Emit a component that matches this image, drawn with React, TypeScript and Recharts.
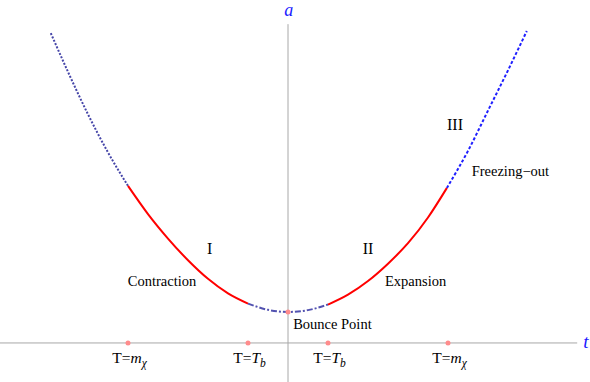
import React from 'react';
import { LineChart, Line, XAxis, YAxis, ReferenceLine, ReferenceDot } from 'recharts';

// curve readings: time t and scale factor a
const tLeftOuter = [-5.93, -5.5, -5.0, -4.5, -4.0];
const aLeftOuter = [10.0, 8.75, 7.38, 6.15, 5.07];
const tLeftRed = [-4.0, -3.5, -3.0, -2.5, -2.0, -1.5, -1.0];
const aLeftRed = [5.07, 4.16, 3.37, 2.67, 2.07, 1.6, 1.27];
const tCenter = [-1.0, -0.5, 0, 0.5, 1.0];
const aCenter = [1.27, 1.07, 1.0, 1.06, 1.24];
const tRightRed = [1.0, 1.5, 2.0, 2.5, 3.0, 3.5, 3.97];
const aRightRed = [1.24, 1.56, 2.0, 2.56, 3.22, 4.05, 5.0];
const tRightOuter = [3.97, 4.5, 5.0, 5.5, 5.97];
const aRightOuter = [5.0, 6.2, 7.5, 8.8, 10.07];

// temperature markers on the t axis
const markerT = [-4, -1, 1, 4];
const markerMain = ['m', 'T', 'T', 'm'];
const markerSub = ['χ', 'b', 'b', 'χ'];
const bounceT = 0;
const bounceA = 1;

// annotations (data coordinates)
const noteText = ['I', 'II', 'III', 'Contraction', 'Expansion', 'Freezing−out', 'Bounce Point'];
const noteT = [-1.96, 2.0, 4.175, -3.15, 3.19, 5.56, 1.11];
const noteA = [2.87, 2.87, 6.89, 1.84, 1.84, 5.39, 0.45];
const noteBig = [true, true, true, false, false, false, false];

const zip = (ts: number[], as: number[]) => ts.map((t, i) => ({ t, a: as[i] }));

const FONT = '"Liberation Serif", "Times New Roman", serif';
const W = 590;
const H = 382;

export default function App() {
  return (
    <div style={{ position: 'absolute', left: 0, top: 0, background: '#fff' }}>
      <LineChart width={W} height={H} margin={{ top: 0, right: 0, bottom: 0, left: 0 }}>
        <XAxis type="number" dataKey="t" domain={[-7.2, 7.55]} hide allowDataOverflow />
        <YAxis type="number" dataKey="a" domain={[-1.26, 11.07]} hide allowDataOverflow />
        <ReferenceLine
          segment={[{ x: -7.2, y: 0 }, { x: 7.23, y: 0 }]}
          stroke="#a8a8a8"
          strokeWidth={1}
          ifOverflow="visible"
        />
        <ReferenceLine
          segment={[{ x: 0, y: 10.29 }, { x: 0, y: -1.26 }]}
          stroke="#a8a8a8"
          strokeWidth={1}
          ifOverflow="visible"
        />
        <Line data={zip(tLeftOuter, aLeftOuter)} dataKey="a" type="monotone" stroke="#4545a8" strokeWidth={2} strokeDasharray="2 1.6" dot={false} activeDot={false} isAnimationActive={false} />
        <Line data={zip(tLeftRed, aLeftRed)} dataKey="a" type="monotone" stroke="#ff0000" strokeWidth={2} dot={false} activeDot={false} isAnimationActive={false} />
        <Line data={zip(tCenter, aCenter)} dataKey="a" type="monotone" stroke="#5252b0" strokeWidth={2} strokeDasharray="6 2 2 2" dot={false} activeDot={false} isAnimationActive={false} />
        <Line data={zip(tRightRed, aRightRed)} dataKey="a" type="monotone" stroke="#ff0000" strokeWidth={2} dot={false} activeDot={false} isAnimationActive={false} />
        <Line data={zip(tRightOuter, aRightOuter)} dataKey="a" type="monotone" stroke="#1f1fff" strokeWidth={2} strokeDasharray="3 2" dot={false} activeDot={false} isAnimationActive={false} />
        {markerT.map((t, i) => (
          <ReferenceDot key={'m' + i} x={t} y={0} r={2.5} fill="#ff8c8c" stroke="none" ifOverflow="visible" />
        ))}
        <ReferenceDot x={bounceT} y={bounceA} r={2.5} fill="#ff8c8c" stroke="none" ifOverflow="visible" />
        {markerT.map((t, i) => (
          <ReferenceDot
            key={'ml' + i}
            x={t}
            y={-0.645}
            r={0}
            ifOverflow="visible"
            shape={(p: any) => (
              <text x={p.cx + 1.5} y={p.cy} textAnchor="middle" fontFamily={FONT} fontSize={15.5} fill="#000">
                <tspan>T=</tspan>
                <tspan fontStyle="italic">{markerMain[i]}</tspan>
                <tspan fontStyle="italic" fontSize={11.5} dy={4}>{markerSub[i]}</tspan>
              </text>
            )}
          />
        ))}
        {noteText.map((txt, i) => (
          <ReferenceDot
            key={'n' + i}
            x={noteT[i]}
            y={noteA[i]}
            r={0}
            ifOverflow="visible"
            shape={(p: any) => (
              <text x={p.cx} y={p.cy} textAnchor="middle" fontFamily={FONT} fontSize={noteBig[i] ? 16 : 14.5} fill="#000">
                {txt}
              </text>
            )}
          />
        ))}
        <ReferenceDot
          x={0.02}
          y={10.55}
          r={0}
          ifOverflow="visible"
          shape={(p: any) => (
            <text x={p.cx} y={p.cy} textAnchor="middle" fontFamily={FONT} fontStyle="italic" fontSize={18} fill="#1a1aff">a</text>
          )}
        />
        <ReferenceDot
          x={7.45}
          y={-0.16}
          r={0}
          ifOverflow="visible"
          shape={(p: any) => (
            <text x={p.cx} y={p.cy} textAnchor="middle" fontFamily={FONT} fontStyle="italic" fontSize={19} fill="#1a1aff">t</text>
          )}
        />
      </LineChart>
    </div>
  );
}
